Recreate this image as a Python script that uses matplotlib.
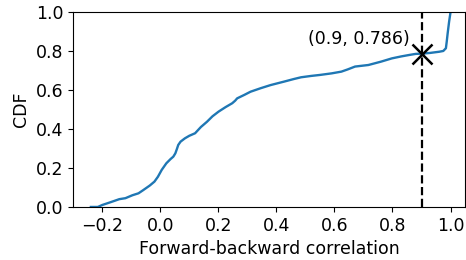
import matplotlib
matplotlib.use("Agg")
import matplotlib.pyplot as plt
import numpy as np

corr = [-0.239, -0.215, -0.2, -0.17, -0.141, -0.12, -0.096, -0.075, -0.06, -0.036, -0.02,
        -0.008, 0.005, 0.021, 0.035, 0.045, 0.052, 0.058, 0.062, 0.07, 0.085, 0.1, 0.12,
        0.14, 0.161, 0.18, 0.201, 0.225, 0.248, 0.258, 0.265, 0.29, 0.311, 0.346, 0.38,
        0.427, 0.46, 0.485, 0.52, 0.55, 0.59, 0.624, 0.645, 0.671, 0.717, 0.76, 0.798,
        0.83, 0.856, 0.88, 0.9, 0.93, 0.961, 0.975, 0.984, 0.987, 0.99, 0.995, 1.0]
cdf = [0.0, 0.0, 0.01, 0.025, 0.04, 0.045, 0.06, 0.07, 0.085, 0.11, 0.13,
       0.155, 0.19, 0.224, 0.245, 0.258, 0.275, 0.30, 0.318, 0.335, 0.352, 0.365, 0.378,
       0.41, 0.437, 0.465, 0.489, 0.512, 0.532, 0.545, 0.557, 0.575, 0.591, 0.609, 0.625,
       0.643, 0.656, 0.665, 0.672, 0.677, 0.685, 0.694, 0.705, 0.72, 0.728, 0.745, 0.762,
       0.772, 0.779, 0.785, 0.786, 0.79, 0.796, 0.80, 0.814, 0.85, 0.89, 0.95, 1.0]

mark_x = 0.9
mark_y = 0.786
label = "(0.9, 0.786)"

plt.rcParams["font.size"] = 12.5
fig = plt.figure(figsize=(4.66, 2.6), dpi=100)
ax = fig.add_axes([0.157, 0.204, 0.841, 0.75])
ax.plot(corr, cdf, color="#1f77b4", lw=1.7)
ax.axvline(mark_x, color="black", ls="--", lw=1.6)
ax.plot([mark_x], [mark_y], marker="x", color="black", markersize=15, mew=1.8)
ax.text(mark_x - 0.04, mark_y + 0.03, label, ha="right", va="bottom")
ax.set_xlim(-0.3, 1.05)
ax.set_ylim(0, 1.0)
ax.set_xticks([-0.2, 0.0, 0.2, 0.4, 0.6, 0.8, 1.0])
ax.set_yticks([0.0, 0.2, 0.4, 0.6, 0.8, 1.0])
ax.set_xlabel("Forward-backward correlation")
ax.set_ylabel("CDF")
fig.savefig("out.png", dpi=100)
